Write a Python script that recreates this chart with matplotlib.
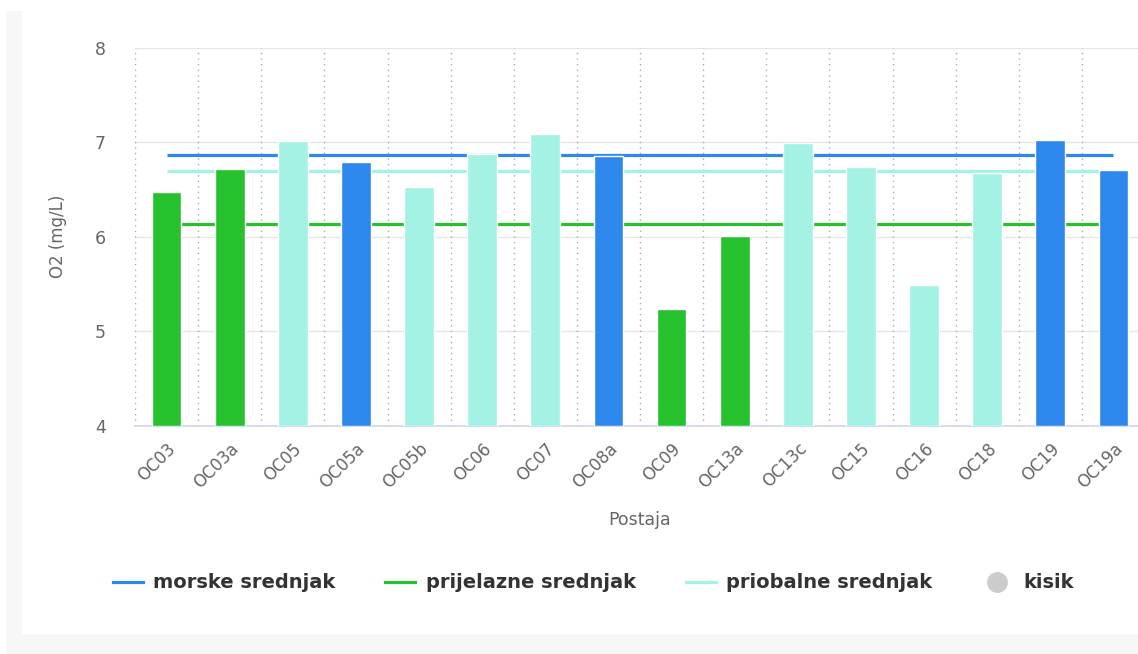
import matplotlib.pyplot as plt
from matplotlib.lines import Line2D
from matplotlib.patches import Rectangle

# station names and O2 values
stations = ["OC03", "OC03a", "OC05", "OC05a", "OC05b", "OC06", "OC07", "OC08a",
            "OC09", "OC13a", "OC13c", "OC15", "OC16", "OC18", "OC19", "OC19a"]
o2 = [6.47, 6.72, 7.01, 6.79, 6.53, 6.88, 7.09, 6.85,
      5.23, 6.01, 6.99, 6.74, 5.49, 6.67, 7.02, 6.71]
water_type = ["prijelazne", "prijelazne", "priobalne", "morske", "priobalne", "priobalne",
              "priobalne", "morske", "prijelazne", "prijelazne", "priobalne", "priobalne",
              "priobalne", "priobalne", "morske", "morske"]

# mean lines
mean_names = ["morske srednjak", "prijelazne srednjak", "priobalne srednjak"]
mean_values = [6.865, 6.135, 6.70]

colors = {"morske": "#2e87ec", "prijelazne": "#26c22e", "priobalne": "#a3f2e3"}
mean_colors = [colors["morske"], colors["prijelazne"], colors["priobalne"]]

plt.rcParams["font.family"] = ["DejaVu Sans"]

fig = plt.figure(figsize=(11.38, 6.54), dpi=100)

# gray frame with white panel
fig.patches.append(Rectangle((6 / 1138, 0), 1, 1 - 11 / 654, transform=fig.transFigure,
                             facecolor="#f7f7f7", edgecolor="none", zorder=-10))
fig.patches.append(Rectangle((22 / 1138, 20 / 654), 1, 1 - 31 / 654, transform=fig.transFigure,
                             facecolor="white", edgecolor="none", zorder=-9))

ax = fig.add_axes([135 / 1138, 228.3 / 654, 1010 / 1138, 378 / 654])
ax.set_facecolor("none")

x = list(range(len(stations)))
bar_colors = [colors[t] for t in water_type]

for name, val, c in zip(mean_names, mean_values, mean_colors):
    ax.plot([x[0], x[-1]], [val, val], color=c, lw=2.3, zorder=2, solid_capstyle="butt")

ax.bar(x, [v - 4 for v in o2], bottom=4, width=0.47, color=bar_colors,
       edgecolor="white", linewidth=1, zorder=3)

ax.set_xlim(-0.5, len(stations) - 0.5)
ax.set_ylim(4, 8)
ax.set_yticks([4, 5, 6, 7, 8])

# grid
for yv in [5, 6, 7, 8]:
    ax.axhline(yv, color="#e6e6e6", lw=1, zorder=0)
for b in range(len(stations)):
    ax.axvline(b - 0.5, color="#aaaaaa", lw=1, ls=(0, (1, 3)), zorder=0)

for s in ["top", "right", "left"]:
    ax.spines[s].set_visible(False)
ax.spines["bottom"].set_color("#ccd6eb")
ax.spines["bottom"].set_linewidth(1.2)

ax.set_xticks(x)
ax.set_xticklabels(stations, rotation=45, ha="right", rotation_mode="anchor",
                   fontsize=12, color="#666666")
ax.tick_params(axis="x", length=0, pad=10)
ax.tick_params(axis="y", length=0, pad=21, labelsize=12.5, labelcolor="#666666")

ax.set_xlabel("Postaja", fontsize=12.5, color="#666666", labelpad=14)
ax.set_ylabel("O2 (mg/L)", fontsize=12, color="#666666", labelpad=20)

handles = [Line2D([], [], color=c, lw=2.3) for c in mean_colors]
handles.append(Line2D([], [], color="#cccccc", marker="o", markersize=14, ls="none"))
labels = mean_names + ["kisik"]
fig.legend(handles, labels, loc="center", bbox_to_anchor=(593 / 1138, 1 - 583 / 654),
           ncol=4, frameon=False, handlelength=1.55, columnspacing=2.55, handletextpad=0.55,
           prop={"weight": "bold", "size": 14}, labelcolor="#333333")

fig.savefig("out.png", dpi=100)
